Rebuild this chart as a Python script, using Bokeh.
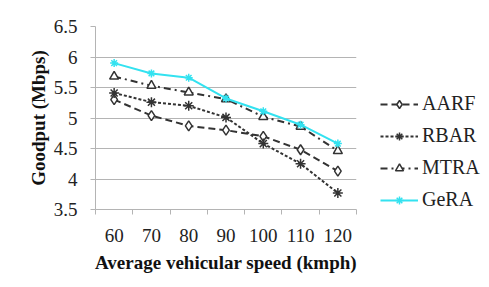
from bokeh.plotting import figure
from bokeh.models import (FixedTicker, NumeralTickFormatter, Legend, LegendItem, Range1d)
from bokeh.embed import file_html
from bokeh.resources import INLINE

speeds = [60, 70, 80, 90, 100, 110, 120]
speed_bounds = [55, 65, 75, 85, 95, 105, 115, 125]
aarf = [5.30, 5.04, 4.87, 4.80, 4.70, 4.48, 4.13]
rbar = [5.41, 5.26, 5.20, 5.01, 4.58, 4.25, 3.77]
mtra = [5.68, 5.53, 5.42, 5.31, 5.02, 4.86, 4.46]
gera = [5.90, 5.73, 5.66, 5.32, 5.11, 4.89, 4.58]
y_ticks = [3.5, 4.0, 4.5, 5.0, 5.5, 6.0, 6.5]

FONT = "Liberation Serif"
GRAY = "#b4b4b4"
DARK = "#333333"
CYAN = "#33e2f0"

p = figure(frame_width=261, frame_height=183, output_backend="svg", toolbar_location=None,
           x_range=Range1d(55, 125), y_range=Range1d(3.5, 6.5),
           min_border_left=95, min_border_right=124, min_border_top=26, min_border_bottom=69)
p.outline_line_color = None
p.xgrid.visible = False
p.ygrid.ticker = FixedTicker(ticks=y_ticks)
p.ygrid.grid_line_color = GRAY
p.ygrid.grid_line_width = 1

xa = p.xaxis[0]
xa.ticker = FixedTicker(ticks=speeds, minor_ticks=speed_bounds)
xa.major_tick_out = 0
xa.major_tick_in = 0
xa.minor_tick_out = 5
xa.minor_tick_in = 0
xa.minor_tick_line_color = GRAY
xa.axis_line_color = GRAY
xa.major_label_standoff = 14
xa.axis_label = "Average vehicular speed (kmph)"
xa.axis_label_standoff = 7

ya = p.yaxis[0]
ya.ticker = FixedTicker(ticks=y_ticks)
ya.formatter = NumeralTickFormatter(format="0.[0]")
ya.major_tick_out = 5
ya.major_tick_in = 0
ya.minor_tick_line_color = None
ya.major_tick_line_color = GRAY
ya.axis_line_color = GRAY
ya.major_label_standoff = 13
ya.axis_label = "Goodput (Mbps)"
ya.axis_label_standoff = 2

for ax in (xa, ya):
    ax.major_label_text_font = FONT
    ax.major_label_text_font_size = "19px"
    ax.major_label_text_color = "#222222"
    ax.axis_label_text_font = FONT
    ax.axis_label_text_font_size = "19px"
    ax.axis_label_text_font_style = "bold"
    ax.axis_label_text_color = "#111111"

l1 = p.line(speeds, aarf, line_color=DARK, line_width=2, line_dash="7 4")
m1 = p.scatter(speeds, aarf, marker="diamond", size=10, line_color=DARK, fill_color="white", line_width=1.5)
l2 = p.line(speeds, rbar, line_color=DARK, line_width=2, line_dash="3 2")
m2 = p.scatter(speeds, rbar, marker="asterisk", size=10, line_color=DARK, line_width=1.5)
l3 = p.line(speeds, mtra, line_color=DARK, line_width=2, line_dash="7 4 2 4")
m3 = p.scatter(speeds, mtra, marker="triangle", size=9, line_color=DARK, fill_color="white", line_width=1.5)
l4 = p.line(speeds, gera, line_color=CYAN, line_width=2)
m4 = p.scatter(speeds, gera, marker="asterisk", size=8, line_color=CYAN, line_width=1.5)

legend = Legend(items=[
    LegendItem(label="AARF", renderers=[l1, m1]),
    LegendItem(label="RBAR", renderers=[l2, m2]),
    LegendItem(label="MTRA", renderers=[l3, m3]),
    LegendItem(label="GeRA", renderers=[l4, m4]),
], location=(24, -2))
legend.padding = 0
legend.margin = 0
legend.spacing = 9
legend.glyph_width = 38
legend.glyph_height = 20
legend.label_height = 20
legend.label_standoff = 4
legend.label_text_font = FONT
legend.label_text_font_size = "20px"
legend.label_text_color = "#222222"
legend.border_line_alpha = 0
legend.background_fill_alpha = 0
p.add_layout(legend, "right")

open("out.html", "w").write(file_html(p, INLINE))
